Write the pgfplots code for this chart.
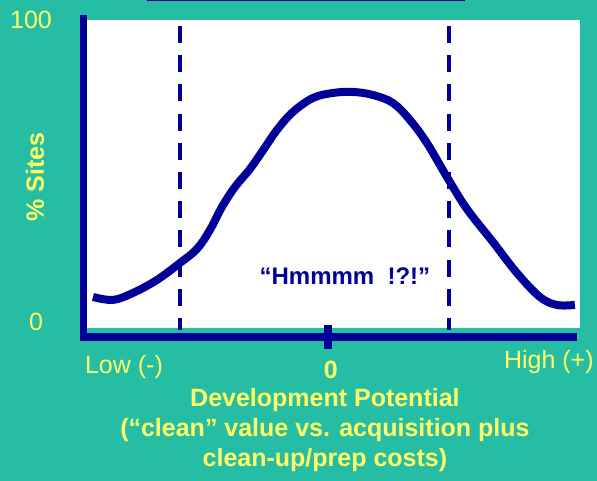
\documentclass[border=0pt]{standalone}
\usepackage{pgfplots}
\pgfplotsset{compat=1.18}
\usepackage{fontspec}
\setmainfont{Liberation Sans}
\definecolor{bgteal}{RGB}{38,189,165}
\definecolor{navy}{RGB}{0,0,153}
\definecolor{lyellow}{RGB}{255,255,102}
\begin{document}
\begin{tikzpicture}
\begin{axis}[
  x=1bp, y=1bp,
  xmin=0, xmax=597, ymin=0, ymax=481,
  hide axis, clip=false, disabledatascaling,
]
% background
\fill[bgteal] (axis cs:0,0) rectangle (axis cs:597,481);
% partial title box border at the top
\fill[navy] (axis cs:147,479.5) rectangle (axis cs:465,481);
% white plot area
\fill[white] (axis cs:84,153) rectangle (axis cs:580,461);
% dashed markers
\addplot[navy, line width=4bp, dash pattern=on 17bp off 12.2bp] coordinates {(180,455) (180,151)};
\addplot[navy, line width=4bp, dash pattern=on 17bp off 12.2bp] coordinates {(449,455) (449,151)};
% curve
\addplot[navy, line width=8bp, smooth, tension=0.6] coordinates {
(93,184) (113,181) (133,188) (157,201) (180,218) (197,232) (210,251)
(222,274) (235,294) (250,312) (264,332) (277,351) (293,369) (313,383)
(333,388) (353,389) (373,386) (393,378) (410,361) (427,338) (447,304)
(467,272) (493,239) (517,208) (540,184) (557,176) (575,176)};
% axis lines
\fill[navy] (axis cs:80,140) rectangle (axis cs:87,466);
\fill[navy] (axis cs:80,140) rectangle (axis cs:577,148);
\fill[navy] (axis cs:324,132) rectangle (axis cs:332,156);
% labels
\node[text=lyellow, font=\fontsize{25bp}{30bp}\selectfont] at (axis cs:31,461) {100};
\node[text=lyellow, font=\fontsize{25bp}{30bp}\selectfont] at (axis cs:36,159) {0};
\node[text=lyellow, font=\fontsize{25bp}{30bp}\selectfont\bfseries, rotate=90] at (axis cs:35,304) {\% Sites};
\node[text=lyellow, font=\fontsize{25bp}{30bp}\selectfont] at (axis cs:124,114) {Low (-)};
\node[text=lyellow, font=\fontsize{25bp}{30bp}\selectfont\bfseries] at (axis cs:331,111) {0};
\node[text=lyellow, font=\fontsize{25bp}{30bp}\selectfont] at (axis cs:549,119) {High (+)};
\node[text=lyellow, font=\fontsize{25bp}{30bp}\selectfont\bfseries, align=center] at (axis cs:325,51)
  {Development Potential\\(“clean” value vs. acquisition plus\\clean-up/prep costs)};
\node[text=navy, font=\fontsize{24bp}{28bp}\selectfont\bfseries] at (axis cs:345,205) {“Hmmmm\ \ !?!”};
\end{axis}
\end{tikzpicture}
\end{document}
